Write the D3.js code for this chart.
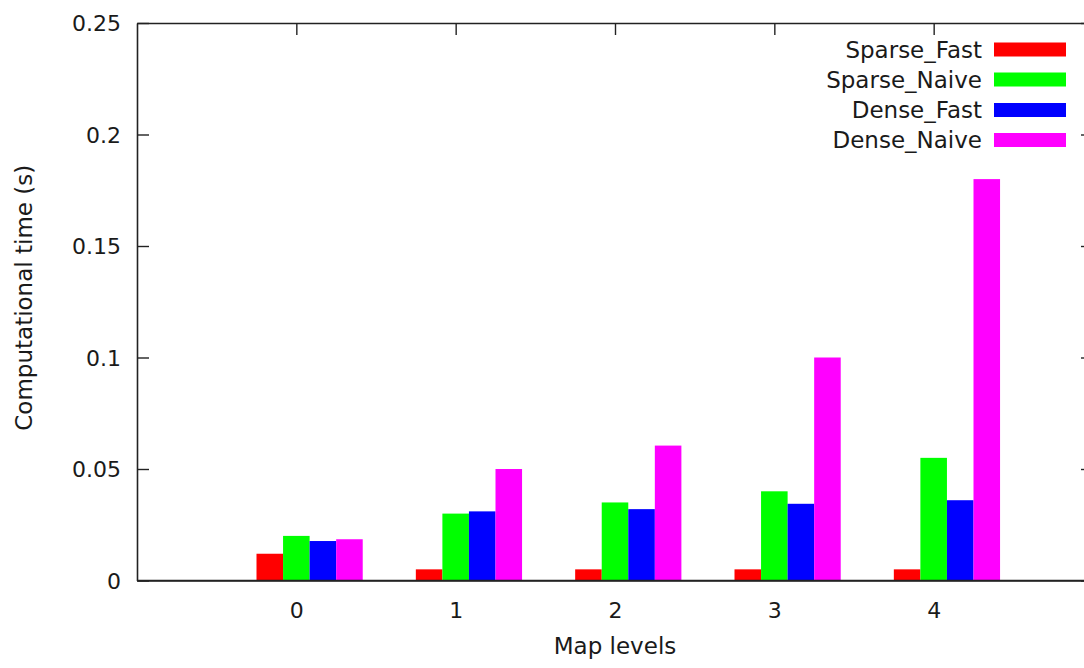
<!DOCTYPE html>
<html>
<head>
<meta charset="utf-8">
<script src="https://cdn.jsdelivr.net/npm/d3@7"></script>
<style>
  html, body { margin: 0; padding: 0; background: #fff; }
  svg { display: block; }
  text { font-family: "DejaVu Sans", sans-serif; fill: #1a1a1a; }
</style>
</head>
<body>
<svg id="chart" width="1084" height="668"></svg>
<script>
// Map levels on the x axis
const levels = [0, 1, 2, 3, 4];
// Series names, in legend / cluster order
const seriesNames = ["Sparse_Fast", "Sparse_Naive", "Dense_Fast", "Dense_Naive"];
const seriesColors = ["#ff0000", "#00ff00", "#0000ff", "#ff00ff"];
// Computational time (s) per map level
const sparseFast  = [0.012, 0.005, 0.005, 0.005, 0.005];
const sparseNaive = [0.020, 0.030, 0.035, 0.040, 0.055];
const denseFast   = [0.0177, 0.031, 0.032, 0.0344, 0.036];
const denseNaive  = [0.0185, 0.050, 0.0605, 0.100, 0.180];
// Y tick values and labels
const yTicks = [0, 0.05, 0.1, 0.15, 0.2, 0.25];
const yTickLabels = ["0", "0.05", "0.1", "0.15", "0.2", "0.25"];

const seriesValues = [sparseFast, sparseNaive, denseFast, denseNaive];

const svg = d3.select("#chart");
const plotLeft = 137, plotRight = 1093, plotTop = 23, plotBottom = 580.5;
const tick = 12;

const x = d3.scaleLinear().domain([-1, 5]).range([plotLeft, plotRight]);
const y = d3.scaleLinear().domain([0, 0.25]).range([plotBottom, plotTop]);

const axisColor = "#222";

function styleAxis(g) {
  g.selectAll("path.domain").attr("stroke", axisColor).attr("stroke-width", 1.6);
  g.selectAll(".tick line").attr("stroke", axisColor).attr("stroke-width", 1.4);
  g.selectAll("text").style("font-size", "22px").attr("fill", "#1a1a1a");
}

// Left axis with inward ticks
svg.append("g")
  .attr("transform", `translate(${plotLeft},0)`)
  .call(d3.axisLeft(y).tickValues(yTicks)
    .tickFormat((d, i) => yTickLabels[i])
    .tickSize(-tick).tickSizeOuter(0).tickPadding(16))
  .call(styleAxis)
  .call(g => g.selectAll("text").attr("dy", "0.36em"));

// Right mirror axis
svg.append("g")
  .attr("transform", `translate(${plotRight},0)`)
  .call(d3.axisRight(y).tickValues(yTicks).tickFormat("")
    .tickSize(-tick).tickSizeOuter(0))
  .call(styleAxis);

// Top mirror axis
svg.append("g")
  .attr("transform", `translate(0,${plotTop})`)
  .call(d3.axisTop(x).tickValues(levels).tickFormat("")
    .tickSize(-tick).tickSizeOuter(0))
  .call(styleAxis);

// Bottom axis
svg.append("g")
  .attr("transform", `translate(0,${plotBottom})`)
  .call(d3.axisBottom(x).tickValues(levels).tickFormat(d3.format("d"))
    .tickSize(-tick).tickSizeOuter(0).tickPadding(22))
  .call(styleAxis);

// Clustered bars
const unit = x(1) - x(0);
const bw = unit / 6;
seriesValues.forEach((vals, k) => {
  svg.append("g")
    .selectAll("rect")
    .data(levels)
    .join("rect")
    .attr("x", (d, i) => x(d) + (k - 1.5) * bw)
    .attr("width", bw)
    .attr("y", (d, i) => y(vals[i]))
    .attr("height", (d, i) => y(0) - y(vals[i]))
    .attr("fill", seriesColors[k]);
});

// Redraw the bottom axis line above the bars
svg.append("line")
  .attr("x1", plotLeft).attr("x2", plotRight)
  .attr("y1", plotBottom).attr("y2", plotBottom)
  .attr("stroke", axisColor).attr("stroke-width", 1.6);

// Legend
const legend = svg.append("g");
const legendY = [49.5, 79.5, 110, 140];
seriesNames.forEach((name, k) => {
  legend.append("text")
    .attr("x", 982).attr("y", legendY[k])
    .attr("dy", "0.36em")
    .attr("text-anchor", "end")
    .style("font-size", "23px")
    .text(name);
  legend.append("rect")
    .attr("x", 994).attr("y", legendY[k] - 7)
    .attr("width", 72).attr("height", 14)
    .attr("fill", seriesColors[k]);
});

// Axis titles
svg.append("text")
  .attr("x", (plotLeft + plotRight) / 2).attr("y", 654)
  .attr("text-anchor", "middle")
  .style("font-size", "23px")
  .text("Map levels");

svg.append("text")
  .attr("transform", `translate(32,${(plotTop + plotBottom) / 2 - 4}) rotate(-90)`)
  .attr("text-anchor", "middle")
  .style("font-size", "23px")
  .text("Computational time (s)");
</script>
</body>
</html>
